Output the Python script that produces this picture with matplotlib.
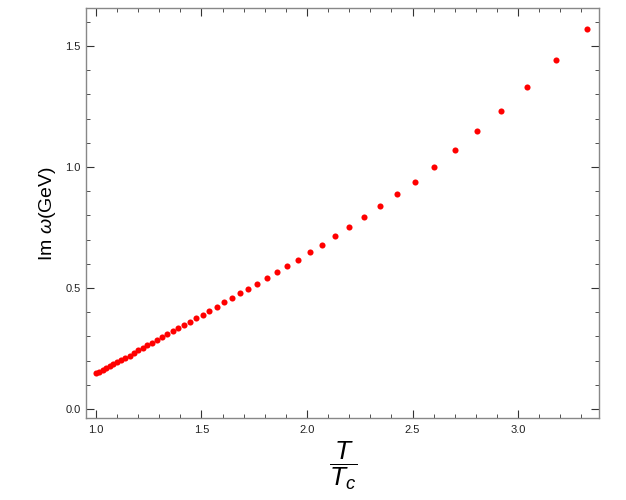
"""Im omega vs T/Tc, Mathematica-style framed scatter."""
import matplotlib
matplotlib.use("Agg")
import matplotlib.pyplot as plt
from matplotlib.ticker import MultipleLocator

# T / Tc
t_ratio = [1.000, 1.015, 1.032, 1.049, 1.066, 1.083, 1.101, 1.120, 1.139, 1.160,
           1.180, 1.200, 1.221, 1.243, 1.265, 1.288, 1.313, 1.336, 1.365, 1.390,
           1.417, 1.444, 1.474, 1.506, 1.537, 1.572, 1.607, 1.643, 1.681, 1.722,
           1.764, 1.809, 1.856, 1.905, 1.959, 2.013, 2.072, 2.134, 2.200, 2.272,
           2.346, 2.427, 2.510, 2.600, 2.700, 2.806, 2.921, 3.044, 3.180, 3.328]
# Im omega (GeV)
im_omega = [0.147, 0.155, 0.162, 0.170, 0.178, 0.186, 0.194, 0.203, 0.212, 0.221,
            0.232, 0.242, 0.253, 0.264, 0.274, 0.285, 0.297, 0.309, 0.322, 0.335,
            0.348, 0.360, 0.377, 0.390, 0.406, 0.423, 0.441, 0.459, 0.479, 0.498,
            0.518, 0.542, 0.565, 0.590, 0.617, 0.648, 0.679, 0.714, 0.752, 0.792,
            0.837, 0.887, 0.939, 1.002, 1.070, 1.147, 1.232, 1.330, 1.441, 1.570]

plt.rcParams["font.family"] = ["Liberation Sans", "DejaVu Sans"]
plt.rcParams["mathtext.fontset"] = "custom"
plt.rcParams["mathtext.it"] = "Liberation Sans:italic"
plt.rcParams["mathtext.rm"] = "Liberation Sans"

fig = plt.figure(figsize=(6.26, 5.0), dpi=100)
ax = fig.add_axes([0.1374, 0.164, 0.8196, 0.820])

ax.plot(t_ratio, im_omega, "o", color="red", markersize=4.4, markeredgewidth=0)

ax.set_xlim(0.953, 3.384)
ax.set_ylim(-0.037, 1.657)
ax.xaxis.set_major_locator(MultipleLocator(0.5))
ax.xaxis.set_minor_locator(MultipleLocator(0.1))
ax.yaxis.set_major_locator(MultipleLocator(0.5))
ax.yaxis.set_minor_locator(MultipleLocator(0.1))
ax.xaxis.set_major_formatter(lambda v, p: f"{v:.1f}")
ax.yaxis.set_major_formatter(lambda v, p: f"{v:.1f}")

ax.tick_params(which="both", direction="in", top=True, right=True,
               color="#333333", labelsize=8, labelcolor="#222222")
ax.tick_params(which="major", length=6, width=0.8)
ax.tick_params(axis="x", which="major", pad=5)
ax.tick_params(axis="y", which="major", pad=4)
ax.tick_params(which="minor", length=3, width=0.6)
for s in ax.spines.values():
    s.set_color("#888888")
    s.set_linewidth(1.0)

ax.set_ylabel(r"Im $\omega$(GeV)", fontsize=14, labelpad=5)
ax.set_xlabel(r"$\dfrac{T}{T_c}$", fontsize=19, labelpad=3)

fig.savefig("out.png", dpi=100)
